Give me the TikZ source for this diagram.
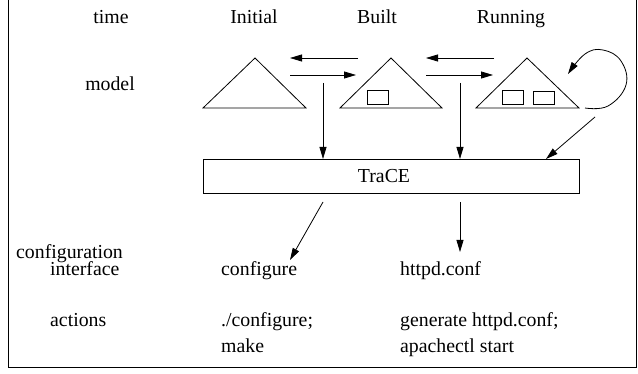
\documentclass[tikz,border=0pt]{standalone}
\usepackage{fontspec}
\setmainfont{Liberation Serif}
\usetikzlibrary{arrows.meta}
\begin{document}
\begin{tikzpicture}[x=1pt,y=-1pt,
  lbl/.style={inner sep=0pt,anchor=base,font=\fontsize{19.8}{22}\selectfont},
  lbll/.style={inner sep=0pt,anchor=base west,font=\fontsize{19.8}{22}\selectfont},
  arr/.style={-{Triangle[length=12pt,width=7pt]},line width=0.8pt},
  shp/.style={line width=0.8pt}]
\useasboundingbox (0,0) rectangle (638,374);
% frame
\draw[line width=1pt] (8,0) -- (8,368) -- (636,368) -- (636,0);
% headers
\node[lbl] (ttime) at (111,24) {time};
\node[lbl] (tinit) at (254,24) {Initial};
\node[lbl] (tbuilt) at (377,24) {Built};
\node[lbl] (trun) at (511,24) {Running};
\node[lbl] (tmodel) at (110,91) {model};
% triangles
\draw[shp] (203,108) -- (255,58) -- (306,108) -- cycle;
\draw[shp] (340,108) -- (391,58) -- (442,108) -- cycle;
\draw[shp] (367,90) rectangle (388,104);
\draw[shp] (476,108) -- (527,58) -- (579,108) -- cycle;
\draw[shp] (502,90) rectangle (523,104);
\draw[shp] (533,91) rectangle (554,104);
% horizontal arrows
\coordinate (l1a) at (358,58); \coordinate (l1b) at (290,58);
\coordinate (l2a) at (494,58); \coordinate (l2b) at (426,58);
\coordinate (r1a) at (290,75); \coordinate (r1b) at (356,75);
\coordinate (r2a) at (426,75); \coordinate (r2b) at (493,75);
\draw[arr] (l1a) -- (l1b);
\draw[arr] (l2a) -- (l2b);
\draw[arr] (r1a) -- (r1b);
\draw[arr] (r2a) -- (r2b);
% loop
\coordinate (ls) at (585,108);
\coordinate (le) at (568,74);
\draw[arr] plot[smooth,tension=0.7] coordinates {(ls) (608,106) (626,85) (621,61) (603,50) (585,54) (le)};
% TraCE box
\node[draw,line width=0.8pt,minimum width=376pt,minimum height=34pt,inner sep=0pt,anchor=north west] (trace) at (203,159) {};
\node[lbl] (tracet) at (384,183) {TraCE};
% down arrows
\coordinate (d1) at (323,83); \coordinate (d2) at (460,83); \coordinate (d3) at (595,117);
\coordinate (d3e) at (546,159);
\draw[arr] (d1) -- (d1 |- trace.north);
\draw[arr] (d2) -- (d2 |- trace.north);
\draw[arr] (d3) -- (d3e);
% lower arrows
\coordinate (u1) at (323,202); \coordinate (u1e) at (290,260);
\coordinate (u2) at (460,202); \coordinate (u2e) at (460,252);
\draw[arr] (u1) -- (u1e);
\draw[arr] (u2) -- (u2e);
% bottom labels
\node[lbll] (tconf) at (16,259) {configuration};
\node[lbll] (tif) at (50,276) {interface};
\node[lbll] (tcfg) at (221,276) {configure};
\node[lbll] (thttpd) at (400,276) {httpd.conf};
\node[lbll] (tact) at (50,327) {actions};
\node[lbll] (ta1) at (221,327) {./configure;};
\node[lbll] (ta2) at (221,353) {make};
\node[lbll] (ta3) at (400,327) {generate httpd.conf;};
\node[lbll] (ta4) at (400,353) {apachectl start};
\end{tikzpicture}
\end{document}
